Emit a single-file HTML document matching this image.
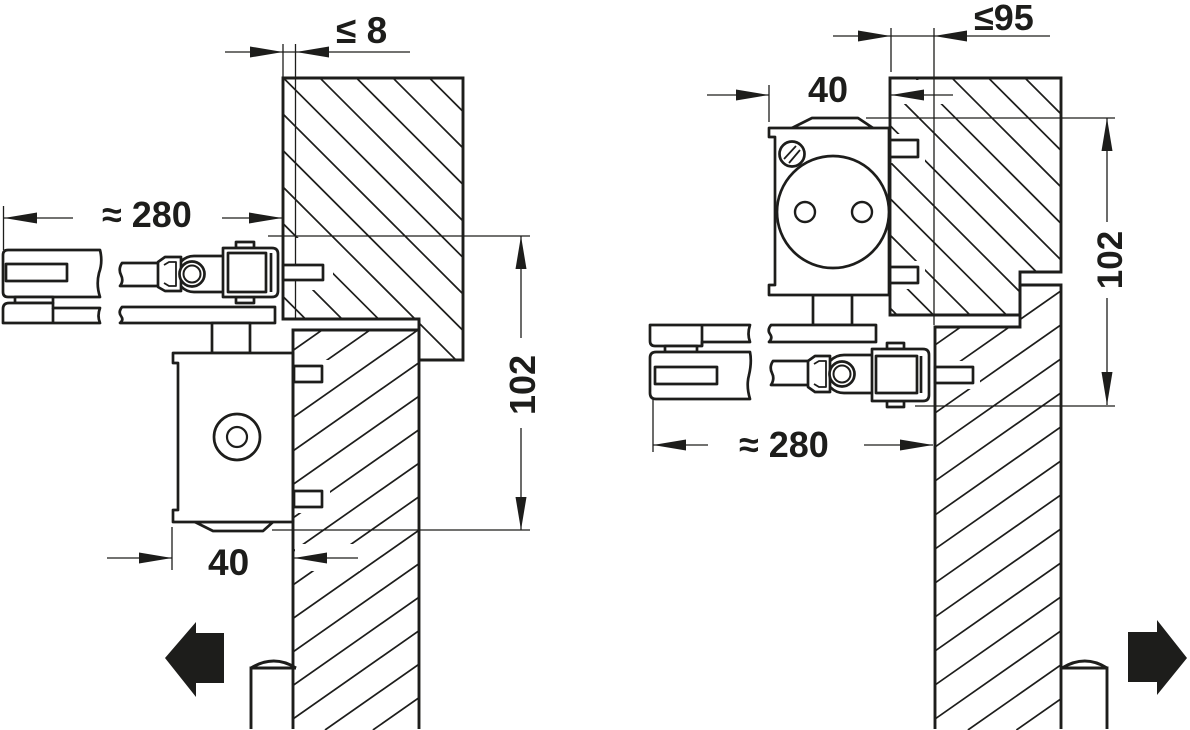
<!DOCTYPE html>
<html>
<head>
<meta charset="utf-8">
<style>
html,body{margin:0;padding:0;background:#fff;width:1190px;height:730px;overflow:hidden;}
svg{display:block;overflow:hidden;}
text{font-family:"Liberation Sans",Arial,sans-serif;font-weight:bold;fill:#1d1d1b;}
</style>
</head>
<body>
<svg width="1190" height="730" viewBox="0 0 1190 730" xmlns="http://www.w3.org/2000/svg">
<defs>
<clipPath id="cf1"><polygon points="283,78 463,78 463,360 419,360 419,319 283,319"/></clipPath>
<clipPath id="cd1"><rect x="293" y="330" width="126" height="400"/></clipPath>
<clipPath id="cf2"><polygon points="890,78 1061,78 1061,272 1020,272 1020,315 890,315"/></clipPath>
<clipPath id="cd2"><polygon points="935,327 1020,327 1020,285 1061,285 1061,730 935,730"/></clipPath>
</defs>
<rect width="1190" height="730" fill="#fff"/>

<!-- HATCHING -->
<g stroke="#1d1d1b" stroke-width="1.7" fill="none">
<g clip-path="url(#cf1)">
<line x1="275" y1="288.5" x2="356.5" y2="370"/>
<line x1="275" y1="252" x2="393" y2="370"/>
<line x1="275" y1="215.5" x2="429.5" y2="370"/>
<line x1="275" y1="179" x2="466" y2="370"/>
<line x1="275" y1="142.5" x2="470" y2="337.5"/>
<line x1="275" y1="106" x2="470" y2="301"/>
<line x1="275" y1="69.5" x2="470" y2="264.5"/>
<line x1="312" y1="70" x2="470" y2="228"/>
<line x1="348.5" y1="70" x2="470" y2="191.5"/>
<line x1="385" y1="70" x2="470" y2="155"/>
<line x1="421.5" y1="70" x2="470" y2="118.5"/>
<line x1="458" y1="70" x2="470" y2="82"/>
</g>
<g clip-path="url(#cf2)">
<line x1="880" y1="298" x2="912" y2="330"/>
<line x1="880" y1="261.5" x2="948.5" y2="330"/>
<line x1="880" y1="225" x2="985" y2="330"/>
<line x1="880" y1="188.5" x2="1021.5" y2="330"/>
<line x1="880" y1="152" x2="1058" y2="330"/>
<line x1="880" y1="115.5" x2="1070" y2="305.5"/>
<line x1="880" y1="79" x2="1070" y2="269"/>
<line x1="907.5" y1="70" x2="1070" y2="232.5"/>
<line x1="944" y1="70" x2="1070" y2="196"/>
<line x1="980.5" y1="70" x2="1070" y2="159.5"/>
<line x1="1017" y1="70" x2="1070" y2="123"/>
<line x1="1053.5" y1="70" x2="1070" y2="86.5"/>
</g>
<g clip-path="url(#cd1)">
<line x1="280" y1="359.5" x2="430" y2="254.5"/>
<line x1="280" y1="393" x2="430" y2="288"/>
<line x1="280" y1="426.5" x2="430" y2="321.5"/>
<line x1="280" y1="460" x2="430" y2="355"/>
<line x1="280" y1="493.5" x2="430" y2="388.5"/>
<line x1="280" y1="527" x2="430" y2="422"/>
<line x1="280" y1="560.5" x2="430" y2="455.5"/>
<line x1="280" y1="594" x2="430" y2="489"/>
<line x1="280" y1="627.5" x2="430" y2="522.5"/>
<line x1="280" y1="661" x2="430" y2="556"/>
<line x1="280" y1="694.5" x2="430" y2="589.5"/>
<line x1="280" y1="728" x2="430" y2="623"/>
<line x1="325" y1="730" x2="430" y2="656.5"/>
<line x1="372.9" y1="730" x2="430" y2="690"/>
</g>
<g clip-path="url(#cd2)">
<line x1="925" y1="318" x2="1070" y2="216.5"/>
<line x1="925" y1="352" x2="1070" y2="250.5"/>
<line x1="925" y1="386" x2="1070" y2="284.5"/>
<line x1="925" y1="420" x2="1070" y2="318.5"/>
<line x1="925" y1="454" x2="1070" y2="352.5"/>
<line x1="925" y1="488" x2="1070" y2="386.5"/>
<line x1="925" y1="522" x2="1070" y2="420.5"/>
<line x1="925" y1="556" x2="1070" y2="454.5"/>
<line x1="925" y1="590" x2="1070" y2="488.5"/>
<line x1="925" y1="624" x2="1070" y2="522.5"/>
<line x1="925" y1="658" x2="1070" y2="556.5"/>
<line x1="925" y1="692" x2="1070" y2="590.5"/>
<line x1="925" y1="726" x2="1070" y2="624.5"/>
<line x1="967.9" y1="730" x2="1070" y2="658.5"/>
<line x1="1016.4" y1="730" x2="1070" y2="692.5"/>
</g>
</g>

<!-- white-outs in hatching -->
<g fill="#fff">
<rect x="284" y="238" width="49" height="52"/>
<rect x="294" y="360" width="36" height="28"/>
<rect x="294" y="485" width="36" height="28"/>
<rect x="295" y="544" width="65" height="27"/>
<rect x="891" y="80" width="58" height="24"/>
<rect x="891" y="134" width="34" height="29"/>
<rect x="891" y="261" width="34" height="28"/>
<rect x="936" y="361" width="44" height="28"/>
</g>

<!-- THIN DIMENSION / EXTENSION LINES -->
<g stroke="#1d1d1b" stroke-width="1.3" fill="none">
<line x1="225" y1="52" x2="410" y2="52"/>
<line x1="283" y1="44" x2="283" y2="78"/>
<line x1="295.5" y1="44" x2="295.5" y2="320"/>
<line x1="3.5" y1="206" x2="3.5" y2="250"/>
<line x1="3" y1="218" x2="73" y2="218"/>
<line x1="222" y1="218" x2="282" y2="218"/>
<line x1="268" y1="236" x2="530" y2="236"/>
<line x1="272" y1="530" x2="530" y2="530"/>
<line x1="521" y1="236" x2="521" y2="338"/>
<line x1="521" y1="428" x2="521" y2="530"/>
<line x1="172" y1="527" x2="172" y2="570"/>
<line x1="107" y1="558" x2="172" y2="558"/>
<line x1="294" y1="558" x2="358" y2="558"/>
<line x1="833" y1="36" x2="1050" y2="36"/>
<line x1="891" y1="28" x2="891" y2="72"/>
<line x1="934" y1="28" x2="934" y2="325"/>
<line x1="707" y1="95" x2="769" y2="95"/>
<line x1="769" y1="85" x2="769" y2="122"/>
<line x1="891" y1="95" x2="953" y2="95"/>
<line x1="866" y1="118" x2="1115" y2="118"/>
<line x1="915" y1="406" x2="1115" y2="406"/>
<line x1="1107" y1="118" x2="1107" y2="222"/>
<line x1="1107" y1="298" x2="1107" y2="405"/>
<line x1="653" y1="398" x2="653" y2="452"/>
<line x1="653" y1="445" x2="708" y2="445"/>
<line x1="864" y1="445" x2="933" y2="445"/>
</g>

<!-- ARROWHEADS -->
<g fill="#1d1d1b">
<polygon points="283,52 250,46.5 250,57.5"/>
<polygon points="296,52 329,46.5 329,57.5"/>
<polygon points="4,218 37,212.5 37,223.5"/>
<polygon points="282,218 249,212.5 249,223.5"/>
<polygon points="521,236 515.5,269 526.5,269"/>
<polygon points="521,530 515.5,497 526.5,497"/>
<polygon points="172,558 139,552.5 139,563.5"/>
<polygon points="294,558 327,552.5 327,563.5"/>
<polygon points="891,36 858,30.5 858,41.5"/>
<polygon points="934,36 967,30.5 967,41.5"/>
<polygon points="769,95 736,89.5 736,100.5"/>
<polygon points="891,95 924,89.5 924,100.5"/>
<polygon points="1107,118 1101.5,151 1112.5,151"/>
<polygon points="1107,405 1101.5,372 1112.5,372"/>
<polygon points="653,445 686,439.5 686,450.5"/>
<polygon points="933,445 900,439.5 900,450.5"/>
<polygon points="165,658 196,622 196,633 224,633 224,683 196,683 196,697"/>
<polygon points="1187,658 1157,620 1157,632 1128,632 1128,682 1157,682 1157,695"/>
</g>

<!-- COMPONENTS -->
<g stroke="#1d1d1b" stroke-width="2.7" fill="#fff" stroke-linejoin="round">
<rect x="283" y="265" width="40" height="15"/>
<rect x="294" y="366" width="28" height="16"/>
<rect x="294" y="491" width="28" height="16"/>
<path d="M100,250 L8,250 Q3,250 3,255 L3,292 Q3,297 8,297 L100,297 Q96,285 99,273 Q103,262 100,250 Z"/>
<rect x="6" y="264" width="61" height="17"/>
<rect x="15" y="297" width="38" height="6"/>
<path d="M3,309 Q3,303 9,303 L53,303 L53,308 L100,308 Q97,316 100,323 L3,323 Z"/>
<line x1="53" y1="308" x2="53" y2="323"/>
<path d="M162,263 L122,263 Q118,269 121,275 Q124,281 120,286 L162,286 Z"/>
<path d="M226,256 L194,256 A18,18 0 0 0 194,292 L226,292 Z"/>
<polygon points="158,262 165,257 181,257 181,291 165,291 158,287"/>
<polyline points="164,265 169,262 176,262 176,286 169,286 164,283" fill="none" stroke-width="1.8"/>
<circle cx="192" cy="274" r="12.5"/>
<circle cx="192" cy="274" r="8.5" stroke-width="2"/>
<rect x="236" y="242" width="18" height="6"/>
<rect x="236" y="297" width="18" height="6"/>
<path d="M223,248 L272,248 Q278,248 278,254 L278,291 Q278,297 272,297 L223,297 Z"/>
<rect x="228" y="253" width="38" height="39"/>
<line x1="271" y1="253" x2="271" y2="292"/>
<path d="M275,307 L122,307 Q118,312 121,316 Q124,320 120,323 L275,323 Z"/>
<rect x="212" y="323" width="38" height="30"/>
<polygon points="195,522 213,531 263,531 273,522"/>
<path d="M173,353 L293,353 L293,522 L173,522 L173,510 L178,510 L178,363 L173,363 Z"/>
<circle cx="237" cy="437" r="23"/>
<circle cx="237" cy="437" r="10" stroke-width="2.2"/>

<rect x="889" y="140" width="29" height="17"/>
<rect x="889" y="267" width="29" height="16"/>
<rect x="813" y="295" width="39" height="30"/>
<polygon points="792,128 812,118 858,118 873,128"/>
<path d="M889,128 L769,128 L769,137 L775,137 L775,285 L769,285 L769,295 L889,295 Z"/>
<circle cx="833" cy="212" r="56"/>
<circle cx="805" cy="212" r="10" stroke-width="2.4"/>
<circle cx="862" cy="212" r="10" stroke-width="2.4"/>
<circle cx="792" cy="154" r="12.5"/>
<line x1="784" y1="159" x2="796" y2="146" stroke-width="1.8"/>
<line x1="789" y1="163" x2="800" y2="150" stroke-width="1.8"/>
<path d="M876,325 L771,325 Q767,330 770,334 Q773,338 769,342 L876,342 Z"/>
<path d="M750,325 L650,325 L650,341 Q650,346 655,346 L702,346 L702,342 L750,342 Q747,334 750,325 Z"/>
<line x1="702" y1="325" x2="702" y2="346"/>
<rect x="665" y="346" width="32" height="6"/>
<path d="M750,352 L656,352 Q650,352 650,358 L650,393 Q650,399 656,399 L750,399 Q746,386 749,375 Q752,362 750,352 Z"/>
<rect x="655" y="367" width="62" height="17"/>
<path d="M811,361 L773,361 Q769,367 772,373 Q775,379 771,385 L811,385 Z"/>
<path d="M875,355 L844,355 A19,19 0 0 0 844,393 L875,393 Z"/>
<polygon points="808,361 815,356 830,356 830,392 815,392 808,387"/>
<polyline points="814,364 819,361 826,361 826,387 819,387 814,384" fill="none" stroke-width="1.8"/>
<circle cx="842" cy="374" r="12.5"/>
<circle cx="842" cy="374" r="8.5" stroke-width="2"/>
<rect x="887" y="343" width="17" height="6"/>
<rect x="887" y="401" width="17" height="6"/>
<path d="M872,349 L923,349 Q929,349 929,355 L929,395 Q929,401 923,401 L872,401 Z"/>
<rect x="876" y="356" width="41" height="37"/>
<line x1="921" y1="356" x2="921" y2="393"/>
<rect x="935" y="367" width="38" height="16"/>
</g>

<!-- FRAME / DOOR OUTLINES -->
<g stroke="#1d1d1b" stroke-width="2.9" fill="none" stroke-linejoin="miter">
<polygon points="283,78 463,78 463,360 419,360 419,319 283,319"/>
<polyline points="293,729 293,330 419,330"/>
<line x1="419" y1="319" x2="419" y2="729"/>
<polygon points="890,78 1061,78 1061,272 1020,272 1020,315 890,315"/>
<polyline points="935,729 935,327 1020,327 1020,285 1061,285 1061,729"/>
<path d="M251,729 L251,668 L296,668 M251,668 Q274,654 296,668"/>
<path d="M1107,729 L1107,668 L1062,668 M1062,668 Q1085,654 1107,668"/>
</g>

<!-- TEXT -->
<text x="336" y="43" font-size="37">≤ 8</text>
<text x="102" y="227" font-size="36">≈ 280</text>
<text x="208" y="575" font-size="37">40</text>
<text transform="translate(535,385) rotate(-90)" text-anchor="middle" font-size="36">102</text>
<text x="974" y="30" font-size="36">≤95</text>
<text x="808" y="102" font-size="36">40</text>
<text transform="translate(1122,260) rotate(-90)" text-anchor="middle" font-size="35">102</text>
<text x="739" y="457" font-size="36">≈ 280</text>
</svg>
</body>
</html>
